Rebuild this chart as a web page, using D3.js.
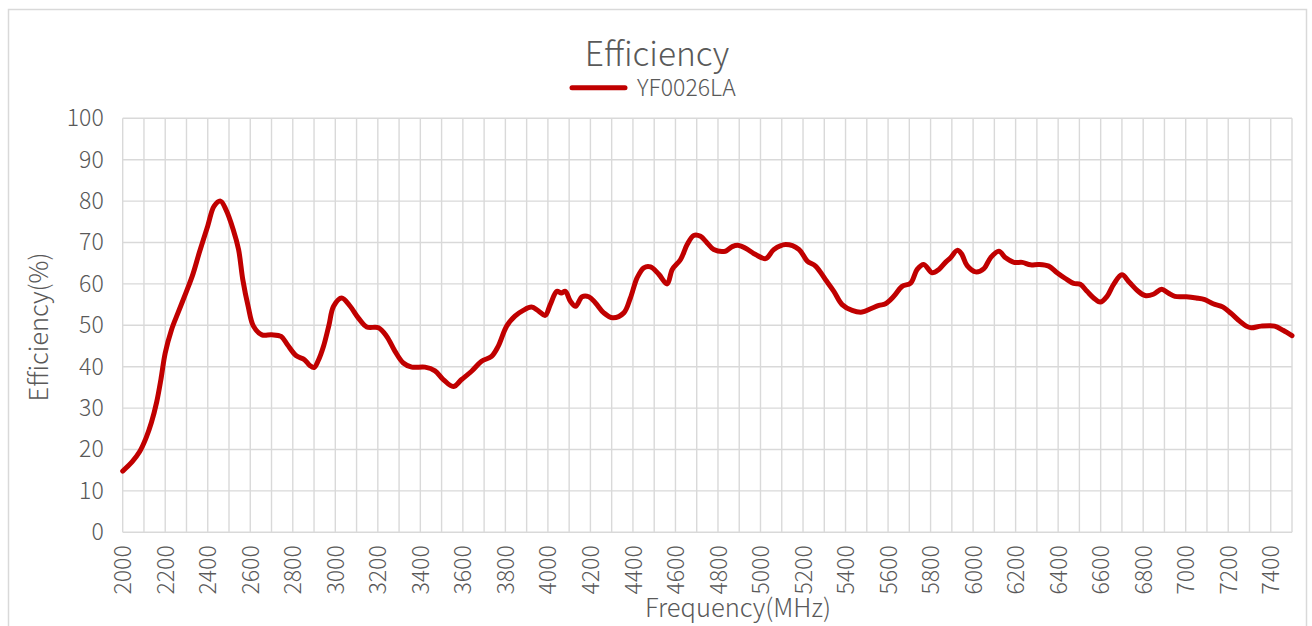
<!DOCTYPE html>
<html>
<head>
<meta charset="utf-8">
<script src="https://cdn.jsdelivr.net/npm/d3@7"></script>
<style>
  html, body { margin: 0; padding: 0; background: #fff; }
  svg { display: block; }
  text { font-family: "Noto Sans CJK SC", "Noto Sans", sans-serif; fill: #595959; font-weight: 300; }
</style>
</head>
<body>
<svg id="chart" width="1312" height="626"></svg>
<script>
const chartTitle = "Efficiency";
const seriesName = "YF0026LA";
const xAxisTitle = "Frequency(MHz)";
const yAxisTitle = "Efficiency(%)";

const frequency = [
  2000, 2044, 2080, 2110, 2135, 2160, 2180, 2200, 2230, 2260, 2300, 2330, 2360, 2400, 2430, 2460, 2485,
  2520, 2545, 2565, 2590, 2615, 2655, 2700, 2745, 2775, 2815, 2855, 2880, 2900, 2920, 2945, 2970, 2992,
  3030, 3070, 3108, 3148, 3203, 3242, 3281, 3320, 3360, 3422, 3469, 3508, 3555, 3594, 3641, 3688, 3735,
  3766, 3806, 3845, 3884, 3923, 3955, 3987, 4011, 4042, 4063, 4082, 4106, 4130, 4161, 4192, 4224, 4263,
  4305, 4357, 4388, 4420, 4451, 4483, 4522, 4561, 4585, 4624, 4655, 4686, 4718, 4749, 4780, 4835, 4867,
  4898, 4930, 4977, 5024, 5063, 5118, 5181, 5220, 5259, 5306, 5345, 5384, 5431, 5478, 5518, 5557, 5588,
  5627, 5666, 5706, 5737, 5768, 5807, 5839, 5870, 5894, 5925, 5945, 5972, 6012, 6051, 6082, 6121, 6153,
  6192, 6231, 6270, 6309, 6356, 6395, 6434, 6473, 6504, 6536, 6567, 6598, 6630, 6661, 6700, 6735, 6775,
  6809, 6848, 6887, 6918, 6949, 7003, 7050, 7090, 7129, 7176, 7215, 7254, 7285, 7308, 7355, 7418, 7458, 7500
];
const efficiency = [
  14.8, 17.0, 19.5, 22.8, 26.5, 31.5, 37.0, 43.3, 49.0, 53.0, 58.2, 62.3, 67.5, 74.0, 78.8, 80.0, 78.0,
  73.1, 68.3, 61.0, 54.6, 49.8, 47.7, 47.7, 47.3, 45.3, 42.7, 41.7, 40.3, 39.8, 41.5, 45.0, 50.0, 54.6,
  56.6, 54.6, 51.8, 49.6, 49.4, 47.3, 43.7, 40.9, 39.9, 39.9, 39.0, 36.9, 35.2, 36.9, 38.9, 41.3, 42.5,
  44.9, 49.8, 52.2, 53.6, 54.4, 53.5, 52.4, 55.0, 58.2, 57.8, 58.2, 55.8, 54.6, 56.9, 56.9, 55.4, 53.0,
  51.8, 53.0, 56.6, 61.5, 63.9, 64.1, 62.3, 60.0, 63.5, 65.9, 69.5, 71.7, 71.5, 69.9, 68.3, 67.9, 69.0,
  69.3, 68.6, 67.1, 66.1, 68.3, 69.5, 68.3, 65.5, 64.3, 61.0, 58.2, 55.0, 53.6, 53.2, 54.0, 54.8, 55.2,
  57.0, 59.4, 60.2, 63.5, 64.7, 62.7, 63.5, 65.2, 66.3, 68.1, 67.3, 64.4, 62.9, 63.7, 66.3, 67.9, 66.3,
  65.2, 65.2, 64.6, 64.7, 64.3, 62.7, 61.3, 60.1, 59.9, 58.2, 56.6, 55.6, 57.0, 59.9, 62.2, 60.4, 58.3,
  57.2, 57.5, 58.7, 57.8, 57.0, 56.9, 56.6, 56.2, 55.2, 54.4, 52.8, 51.0, 49.8, 49.4, 49.8, 49.8, 48.8, 47.5
];
const xTickLabels = d3.range(2000, 7401, 200);
const xGridValues = d3.range(2000, 7501, 100);
const yTickLabels = d3.range(0, 101, 10);

const svg = d3.select("#chart");
const plot = { left: 122.7, right: 1292, top: 118.3, bottom: 532.3 };
const gridColor = "#d9d9d9";
const lineColor = "#c00000";

// outer chart border
svg.append("rect")
  .attr("x", 8.5).attr("y", 9.5)
  .attr("width", 1298).attr("height", 640)
  .attr("fill", "#fff").attr("stroke", gridColor).attr("stroke-width", 1.5);

const x = d3.scaleLinear().domain([2000, 7500]).range([plot.left, plot.right]);
const y = d3.scaleLinear().domain([0, 100]).range([plot.bottom, plot.top]);

// gridlines
const g = svg.append("g");
g.selectAll("line.v").data(xGridValues).join("line")
  .attr("class", "v")
  .attr("x1", d => x(d)).attr("x2", d => x(d))
  .attr("y1", plot.top).attr("y2", plot.bottom)
  .attr("stroke", gridColor).attr("stroke-width", 1.4);
g.selectAll("line.h").data(yTickLabels).join("line")
  .attr("class", "h")
  .attr("x1", plot.left).attr("x2", plot.right)
  .attr("y1", d => y(d)).attr("y2", d => y(d))
  .attr("stroke", gridColor).attr("stroke-width", 1.4);

// y axis
const yAxis = d3.axisLeft(y).tickValues(yTickLabels).tickSize(0).tickPadding(19);
const yG = svg.append("g").attr("transform", `translate(${plot.left},0)`).call(yAxis);
yG.select(".domain").remove();
yG.selectAll("text").style("font-size", "23px").attr("fill", "#595959")
  .style("font-family", '"Noto Sans CJK SC", sans-serif').style("font-weight", 300);

// x axis
const xAxis = d3.axisBottom(x).tickValues(xTickLabels).tickSize(0).tickFormat(d3.format("d"));
const xG = svg.append("g").attr("transform", `translate(0,${plot.bottom})`).call(xAxis);
xG.select(".domain").remove();
xG.selectAll("text")
  .style("font-size", "23px").attr("fill", "#595959")
  .style("font-family", '"Noto Sans CJK SC", sans-serif').style("font-weight", 300)
  .attr("text-anchor", "end")
  .attr("transform", "rotate(-90)")
  .attr("x", -13).attr("y", 0).attr("dy", "0.35em");

// line
const line = d3.line()
  .x((d, i) => x(frequency[i]))
  .y((d, i) => y(efficiency[i]))
  .curve(d3.curveCatmullRom.alpha(0.5));
svg.append("path")
  .datum(efficiency)
  .attr("d", line)
  .attr("fill", "none")
  .attr("stroke", lineColor)
  .attr("stroke-width", 5)
  .attr("stroke-linejoin", "round")
  .attr("stroke-linecap", "round");

// title
svg.append("text")
  .attr("x", 657).attr("y", 66)
  .attr("text-anchor", "middle")
  .style("font-size", "33.5px")
  .text(chartTitle);

// legend
svg.append("line")
  .attr("x1", 572).attr("x2", 625).attr("y1", 87.7).attr("y2", 87.7)
  .attr("stroke", lineColor).attr("stroke-width", 5).attr("stroke-linecap", "round");
svg.append("text")
  .attr("x", 637).attr("y", 96)
  .style("font-size", "23px")
  .text(seriesName);

// axis titles
svg.append("text")
  .attr("transform", "translate(48,327) rotate(-90)")
  .attr("text-anchor", "middle")
  .style("font-size", "25.5px")
  .text(yAxisTitle);
svg.append("text")
  .attr("x", 738).attr("y", 617)
  .attr("text-anchor", "middle")
  .style("font-size", "25.5px")
  .text(xAxisTitle);
</script>
</body>
</html>
